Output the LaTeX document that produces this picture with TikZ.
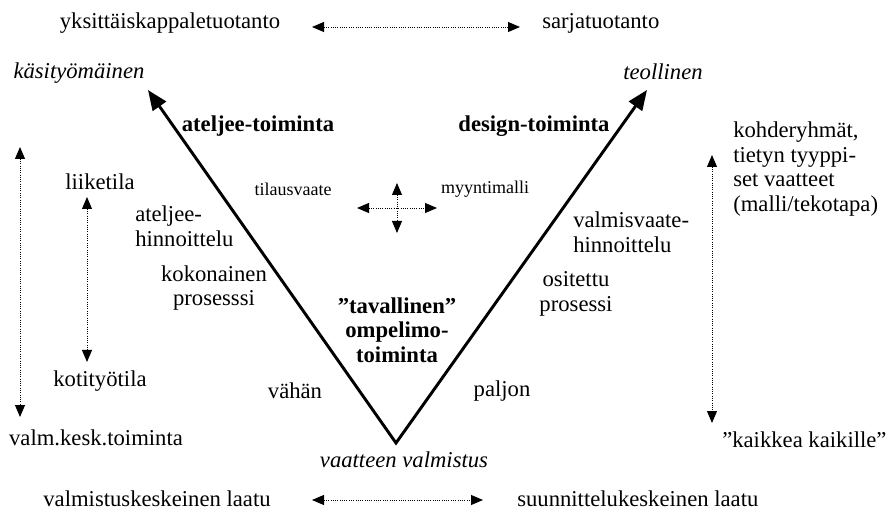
\documentclass[tikz,border=0pt]{standalone}
\usepackage{fontspec}
\setmainfont{Liberation Serif}
\usetikzlibrary{arrows.meta}
\begin{document}
\begin{tikzpicture}[x=0.75pt,y=-0.75pt,
  txt/.style={font=\fontsize{17}{18.5}\selectfont, inner sep=0pt, align=center},
  sml/.style={font=\fontsize{13.5}{15}\selectfont, inner sep=0pt},
  dots/.style={densely dotted, line width=0.7pt, {Triangle[length=9pt,width=7.5pt]}-{Triangle[length=9pt,width=7.5pt]}},
  axis/.style={line width=2.2pt, line join=miter, {Triangle[length=15pt,width=12pt]}-{Triangle[length=15pt,width=12pt]}}]
\useasboundingbox (0,0) rectangle (889,513);
% top row
\node[txt] (yks) at (170,23) {yksittäiskappaletuotanto};
\node[txt, anchor=west] (sarja) at (542,23) {sarjatuotanto};
\coordinate (t1) at (312,27);
\coordinate (t2) at (520,27);
\draw[dots] (t1) -- (t2);
% the V
\coordinate (kasi) at (148,90);
\coordinate (pohja) at (396,443);
\coordinate (teol) at (647,90);
\draw[axis] (kasi) -- (pohja) -- (teol);
\node[txt, font=\fontsize{17}{18.5}\selectfont\itshape] (kasityo) at (79,73) {käsityömäinen};
\node[txt, font=\fontsize{17}{18.5}\selectfont\itshape] (teollinen) at (663,72) {teollinen};
\node[txt, font=\fontsize{17}{18.5}\selectfont\bfseries] (ateljee) at (258,126) {ateljee-toiminta};
\node[txt, font=\fontsize{17}{18.5}\selectfont\bfseries] (design) at (534,126) {design-toiminta};
\node[txt, font=\fontsize{17}{18.5}\selectfont\itshape] (valmistus) at (404,460) {vaatteen valmistus};
% cross in the middle
\node[sml] (tilaus) at (293,189) {tilausvaate};
\node[sml] (myynti) at (485,189) {myyntimalli};
\coordinate (c1) at (357,208);
\coordinate (c2) at (437,208);
\coordinate (c3) at (397,183);
\coordinate (c4) at (397,233);
\draw[dots] (c1) -- (c2);
\draw[dots] (c3) -- (c4);
% left side
\node[txt] (liike) at (100,182) {liiketila};
\node[txt] (koti) at (100,381) {kotityötila};
\node[txt] (valmkesk) at (96,438) {valm.kesk.toiminta};
\coordinate (l1) at (87,197);
\coordinate (l2) at (87,362);
\draw[dots] (l1) -- (l2);
\coordinate (o1) at (20,147);
\coordinate (o2) at (20,417);
\draw[dots] (o1) -- (o2);
\node[txt, align=left, anchor=west] (ahinta) at (135,226) {ateljee-\\hinnoittelu};
\node[txt] (kokon) at (214,288) {kokonainen\\prosesssi};
\node[txt] (vahan) at (295,391) {vähän};
% middle
\node[txt, font=\fontsize{17}{18.5}\selectfont\bfseries] (tavall) at (397,330) {”tavallinen”\\ompelimo-\\toiminta};
% right side
\node[txt] (paljon) at (502,391) {paljon};
\node[txt, align=left, anchor=west] (vhinta) at (573,232) {valmisvaate-\\hinnoittelu};
\node[txt] (ositettu) at (576,294) {ositettu\\prosessi};
\node[txt, align=left, anchor=west] (kohde) at (733,169) {kohderyhmät,\\tietyn tyyppi-\\set vaatteet\\(malli/tekotapa)};
\node[txt, anchor=west] (kaikki) at (722,440) {”kaikkea kaikille”};
\coordinate (r1) at (712,155);
\coordinate (r2) at (712,423);
\draw[dots] (r1) -- (r2);
% bottom row
\node[txt] (vlaatu) at (157,499) {valmistuskeskeinen laatu};
\node[txt, anchor=west] (slaatu) at (517,499) {suunnittelukeskeinen laatu};
\coordinate (b1) at (312,500);
\coordinate (b2) at (483,500);
\draw[dots] (b1) -- (b2);
\end{tikzpicture}
\end{document}
